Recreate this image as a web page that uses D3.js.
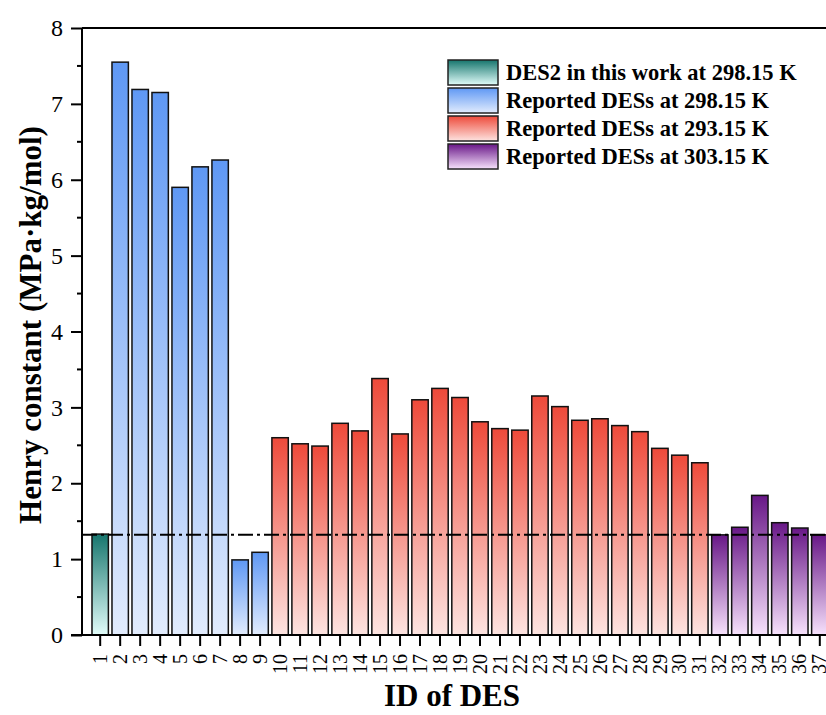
<!DOCTYPE html>
<html>
<head>
<meta charset="utf-8">
<script src="https://cdn.jsdelivr.net/npm/d3@7"></script>
<style>
  body { margin: 0; background: #fff; }
  svg { display: block; font-family: "Liberation Serif", "Times New Roman", serif; }
</style>
</head>
<body>
<div id="chart"></div>
<script>
// DATA
const ids = d3.range(1, 38).map(String);
const groups = ["this", "r298", "r293", "r303"];
const groupLabels = [
    "DES2 in this work at 298.15 K",
    "Reported DESs at 298.15 K",
    "Reported DESs at 293.15 K",
    "Reported DESs at 303.15 K"
];
const henry = [
    1.33,
    7.55, 7.19, 7.15, 5.90, 6.17, 6.26, 0.99, 1.09,
    2.60, 2.52, 2.49, 2.79, 2.69, 3.38, 2.65, 3.10, 3.25, 3.13, 2.81,
    2.72, 2.70, 3.15, 3.01, 2.83, 2.85, 2.76, 2.68, 2.46, 2.37, 2.27,
    1.32, 1.42, 1.84, 1.48, 1.41, 1.32
];
const groupOf = [
    "this",
    "r298", "r298", "r298", "r298", "r298", "r298", "r298", "r298",
    "r293", "r293", "r293", "r293", "r293", "r293", "r293", "r293", "r293", "r293", "r293",
    "r293", "r293", "r293", "r293", "r293", "r293", "r293", "r293", "r293", "r293", "r293",
    "r303", "r303", "r303", "r303", "r303", "r303"
];
const refLine = 1.32;
const yTicks = [0, 1, 2, 3, 4, 5, 6, 7, 8];

const data = ids.map((id, i) => ({ id: id, value: henry[i], group: groupOf[i] }));

// colours: top / bottom of each gradient
const topColor = { this: "#16756d", r298: "#5f98f4", r293: "#ee4a3a", r303: "#681787" };
const botColor = { this: "#e2fdfa", r298: "#e2ecfd", r293: "#fde4e1", r303: "#f7e2fc" };

const W = 826, H = 715;
const plotLeft = 82, plotTop = 28, plotBottom = 635, plotRight = 838;

const svg = d3.select("#chart").append("svg")
    .attr("width", W)
    .attr("height", H);

const defs = svg.append("defs");
groups.forEach(g => {
    const grad = defs.append("linearGradient")
        .attr("id", "grad-" + g)
        .attr("x1", 0).attr("y1", 0)
        .attr("x2", 0).attr("y2", 1);
    grad.append("stop").attr("offset", "0%").attr("stop-color", topColor[g]);
    grad.append("stop").attr("offset", "100%").attr("stop-color", botColor[g]);
});

// SCALES
const x = d3.scaleBand()
    .domain(ids)
    .range([plotLeft, plotRight])
    .paddingInner(0.18)
    .paddingOuter(0.5);

const y = d3.scaleLinear()
    .domain([0, 8])
    .range([plotBottom, plotTop]);

// BARS
svg.append("g")
    .selectAll("rect")
    .data(data)
    .enter()
    .append("rect")
    .attr("x", d => x(d.id))
    .attr("y", d => y(d.value))
    .attr("width", x.bandwidth())
    .attr("height", d => y(0) - y(d.value))
    .attr("fill", d => `url(#grad-${d.group})`)
    .attr("stroke", "#111")
    .attr("stroke-width", 1.5);

// REFERENCE LINE
svg.append("line")
    .attr("x1", plotLeft)
    .attr("x2", W)
    .attr("y1", y(refLine))
    .attr("y2", y(refLine))
    .attr("stroke", "#000")
    .attr("stroke-width", 2)
    .attr("stroke-dasharray", "15,4,3,4");

// Y AXIS
const yAxis = svg.append("g")
    .attr("transform", `translate(${plotLeft},0)`)
    .call(d3.axisLeft(y).tickValues(yTicks).tickFormat(d3.format("d")).tickSize(11).tickPadding(8));
yAxis.select(".domain").remove();
yAxis.selectAll(".tick line").attr("stroke", "#000").attr("stroke-width", 2);
yAxis.selectAll(".tick text")
    .attr("font-family", "Liberation Serif, serif")
    .attr("font-size", 24)
    .attr("fill", "#000");

// minor ticks
svg.append("g")
    .selectAll("line")
    .data(yTicks.slice(0, -1).map(v => v + 0.5))
    .enter()
    .append("line")
    .attr("x1", plotLeft - 5)
    .attr("x2", plotLeft)
    .attr("y1", d => y(d))
    .attr("y2", d => y(d))
    .attr("stroke", "#000")
    .attr("stroke-width", 2);

// X AXIS
const xAxis = svg.append("g")
    .attr("transform", `translate(0,${plotBottom})`)
    .call(d3.axisBottom(x).tickSize(11).tickSizeOuter(0));
xAxis.select(".domain").remove();
xAxis.selectAll(".tick line").attr("stroke", "#000").attr("stroke-width", 2);
xAxis.selectAll(".tick text")
    .attr("font-family", "Liberation Serif, serif")
    .attr("font-size", 20)
    .attr("fill", "#000")
    .attr("text-anchor", "end")
    .attr("dy", "0.33em")
    .attr("transform", "translate(0,19) rotate(-90)")
    .attr("x", 0)
    .attr("y", 0);

// FRAME LINES
svg.append("line")
    .attr("x1", plotLeft - 11).attr("x2", W)
    .attr("y1", plotBottom).attr("y2", plotBottom)
    .attr("stroke", "#000").attr("stroke-width", 2);
svg.append("line")
    .attr("x1", plotLeft).attr("x2", W)
    .attr("y1", plotTop).attr("y2", plotTop)
    .attr("stroke", "#000").attr("stroke-width", 2);
svg.append("line")
    .attr("x1", plotLeft).attr("x2", plotLeft)
    .attr("y1", plotTop).attr("y2", plotBottom)
    .attr("stroke", "#000").attr("stroke-width", 2);

// AXIS TITLES
svg.append("text")
    .attr("transform", `translate(41,325) rotate(-90)`)
    .attr("text-anchor", "middle")
    .attr("font-size", 31)
    .attr("font-weight", "bold")
    .text("Henry constant (MPa·kg/mol)");

svg.append("text")
    .attr("x", 452)
    .attr("y", 706)
    .attr("text-anchor", "middle")
    .attr("font-size", 31)
    .attr("font-weight", "bold")
    .text("ID of DES");

// LEGEND
const legend = svg.selectAll(".legend")
    .data(groups)
    .enter()
    .append("g")
    .attr("class", "legend")
    .attr("transform", (d, i) => `translate(448, ${60 + i * 28})`);

legend.append("rect")
    .attr("width", 50)
    .attr("height", 25)
    .attr("fill", d => `url(#grad-${d})`)
    .attr("stroke", "#222")
    .attr("stroke-width", 1.5);

legend.append("text")
    .attr("x", 58)
    .attr("y", 20)
    .attr("font-size", 22.5)
    .attr("font-weight", "bold")
    .text((d, i) => groupLabels[i]);
</script>
</body>
</html>
